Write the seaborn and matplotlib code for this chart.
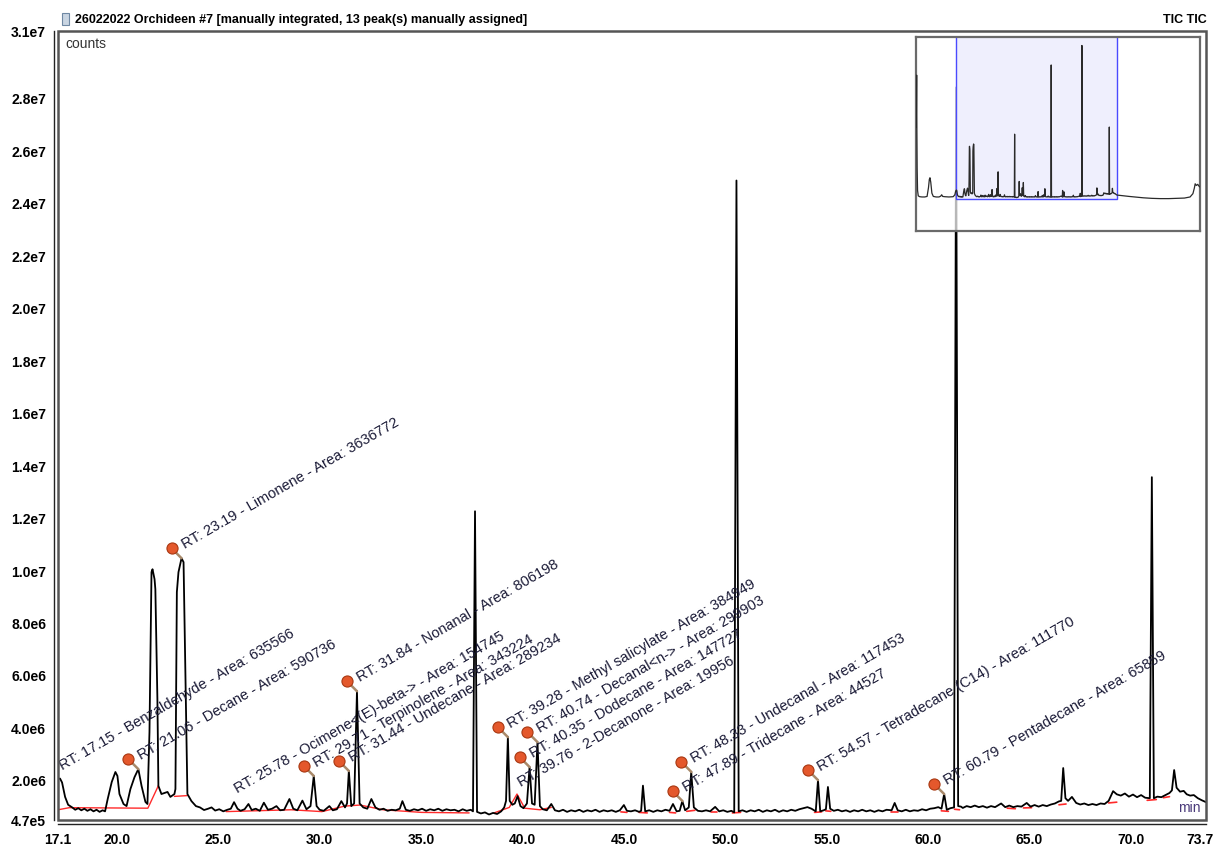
import numpy as np
import pandas as pd
import matplotlib
matplotlib.use("Agg")
import matplotlib.pyplot as plt
import matplotlib.transforms as mtransforms
from matplotlib.patches import Rectangle
import seaborn as sns

# ---------------- data ----------------
trace_time = [
    17.10, 17.20, 17.30, 17.45, 17.60, 17.80, 17.95, 18.10, 18.25, 18.40, 18.55, 18.70, 18.85, 19.00,
    19.15, 19.30, 19.42, 19.55, 19.75, 19.93, 20.03, 20.13, 20.33, 20.48, 20.67, 20.87, 21.06, 21.22,
    21.41, 21.51, 21.61, 21.71, 21.76, 21.86, 21.90, 22.00, 22.05, 22.20, 22.35, 22.50, 22.64, 22.84,
    22.89, 22.96, 23.04, 23.19, 23.29, 23.38, 23.48, 23.68, 23.90, 24.10, 24.30, 24.50, 24.67, 24.85,
    25.05, 25.25, 25.45, 25.62, 25.78, 25.95, 26.10, 26.30, 26.49, 26.65, 26.85, 27.05, 27.25, 27.45,
    27.65, 27.87, 28.05, 28.25, 28.51, 28.70, 28.90, 29.15, 29.35, 29.55, 29.71, 29.85, 30.00, 30.20,
    30.48, 30.65, 30.85, 31.07, 31.25, 31.35, 31.44, 31.56, 31.70, 31.84, 31.97, 32.15, 32.35, 32.55,
    32.75, 32.95, 33.15, 33.35, 33.55, 33.75, 33.95, 34.08, 34.25, 34.45, 34.65, 34.85, 35.05, 35.25,
    35.45, 35.65, 35.85, 36.05, 36.25, 36.45, 36.65, 36.85, 37.05, 37.25, 37.45, 37.56, 37.66, 37.76,
    37.95, 38.15, 38.35, 38.55, 38.75, 38.95, 39.10, 39.19, 39.28, 39.37, 39.50, 39.62, 39.76, 39.90,
    40.05, 40.22, 40.35, 40.47, 40.60, 40.74, 40.86, 41.00, 41.20, 41.42, 41.60, 41.80, 42.00, 42.20,
    42.40, 42.60, 42.80, 43.00, 43.20, 43.40, 43.60, 43.80, 44.00, 44.20, 44.40, 44.60, 44.80, 45.00,
    45.15, 45.35, 45.55, 45.75, 45.85, 45.94, 46.05, 46.25, 46.45, 46.65, 46.85, 47.05, 47.25, 47.42,
    47.60, 47.75, 47.88, 48.02, 48.20, 48.32, 48.45, 48.65, 48.85, 49.05, 49.25, 49.50, 49.70, 49.90,
    50.10, 50.30, 50.44, 50.55, 50.66, 50.85, 51.05, 51.25, 51.45, 51.65, 51.85, 52.05, 52.25, 52.45,
    52.65, 52.85, 53.05, 53.25, 53.45, 53.65, 53.85, 54.05, 54.25, 54.46, 54.57, 54.68, 54.85, 54.96,
    55.06, 55.17, 55.35, 55.55, 55.75, 55.95, 56.15, 56.35, 56.55, 56.75, 56.95, 57.15, 57.35, 57.55,
    57.75, 57.95, 58.20, 58.35, 58.50, 58.70, 58.90, 59.10, 59.30, 59.50, 59.70, 59.90, 60.10, 60.30,
    60.50, 60.66, 60.79, 60.92, 61.10, 61.28, 61.38, 61.48, 61.62, 61.71, 61.90, 62.10, 62.30, 62.50,
    62.70, 62.90, 63.10, 63.30, 63.60, 63.80, 64.00, 64.20, 64.40, 64.60, 64.86, 65.05, 65.25, 65.45,
    65.65, 65.85, 66.05, 66.25, 66.45, 66.56, 66.66, 66.77, 66.90, 67.09, 67.30, 67.50, 67.70, 67.90,
    68.10, 68.30, 68.50, 68.70, 68.90, 69.12, 69.30, 69.50, 69.70, 69.90, 70.10, 70.30, 70.50, 70.70,
    70.93, 71.03, 71.13, 71.30, 71.50, 71.70, 71.90, 72.02, 72.13, 72.25, 72.42, 72.60, 72.75, 72.92,
    73.10, 73.30, 73.50, 73.70,
]
trace_counts = [
    2.03e6, 2.05e6, 1.90e6, 1.35e6, 1.05e6, 0.95e6, 0.86e6, 0.92e6, 0.84e6, 0.90e6, 0.82e6, 0.88e6, 0.80e6, 0.86e6,
    0.78e6, 0.84e6, 0.80e6, 1.27e6, 1.92e6, 2.30e6, 2.15e6, 1.46e6, 1.08e6, 1.00e6, 1.65e6, 2.10e6, 2.41e6, 1.77e6,
    1.16e6, 1.08e6, 3.82e6, 9.92e6, 1.003e7, 9.65e6, 9.27e6, 5.10e6, 1.77e6, 1.46e6, 1.50e6, 1.54e6, 1.35e6, 1.46e6,
    1.65e6, 9.16e6, 9.92e6, 1.045e7, 1.03e7, 6.0e6, 1.46e6, 1.19e6, 1.00e6, 0.95e6, 0.85e6, 0.90e6, 0.95e6, 0.83e6,
    0.88e6, 0.80e6, 0.86e6, 0.90e6, 1.15e6, 0.90e6, 0.82e6, 0.88e6, 1.08e6, 0.85e6, 0.90e6, 0.82e6, 1.13e6, 0.86e6,
    0.90e6, 1.00e6, 0.84e6, 0.86e6, 1.27e6, 0.90e6, 0.84e6, 1.21e6, 0.88e6, 1.00e6, 2.15e6, 1.00e6, 0.86e6, 0.82e6,
    1.00e6, 0.84e6, 0.88e6, 1.19e6, 0.95e6, 1.10e6, 2.34e6, 1.00e6, 1.10e6, 5.38e6, 1.10e6, 0.95e6, 0.90e6, 1.27e6,
    0.95e6, 0.86e6, 0.90e6, 0.82e6, 0.86e6, 0.84e6, 0.90e6, 1.19e6, 0.86e6, 0.82e6, 0.88e6, 0.84e6, 0.90e6, 0.82e6,
    0.88e6, 0.84e6, 0.90e6, 0.82e6, 0.88e6, 0.84e6, 0.86e6, 0.80e6, 0.88e6, 0.82e6, 0.86e6, 0.80e6, 1.224e7, 0.78e6,
    0.72e6, 0.76e6, 0.68e6, 0.74e6, 0.70e6, 0.80e6, 0.95e6, 1.20e6, 3.63e6, 1.20e6, 1.05e6, 1.10e6, 1.38e6, 1.00e6,
    0.92e6, 1.10e6, 2.49e6, 1.10e6, 1.05e6, 3.44e6, 1.00e6, 0.88e6, 0.84e6, 1.08e6, 0.84e6, 0.80e6, 0.86e6, 0.78e6,
    0.84e6, 0.80e6, 0.86e6, 0.78e6, 0.84e6, 0.80e6, 0.86e6, 0.78e6, 0.84e6, 0.80e6, 0.84e6, 0.78e6, 0.84e6, 1.04e6,
    0.82e6, 0.80e6, 0.84e6, 0.78e6, 0.82e6, 1.78e6, 0.80e6, 0.84e6, 0.78e6, 0.84e6, 0.80e6, 0.86e6, 0.82e6, 1.08e6,
    0.80e6, 0.82e6, 1.19e6, 0.84e6, 0.95e6, 2.30e6, 0.95e6, 0.82e6, 0.80e6, 0.84e6, 0.80e6, 0.97e6, 0.80e6, 0.84e6,
    0.78e6, 0.82e6, 0.76e6, 2.485e7, 0.80e6, 0.84e6, 0.78e6, 0.84e6, 0.80e6, 0.86e6, 0.78e6, 0.84e6, 0.80e6, 0.86e6,
    0.78e6, 0.84e6, 0.80e6, 0.86e6, 0.82e6, 0.88e6, 0.92e6, 0.96e6, 0.90e6, 0.80e6, 1.99e6, 0.80e6, 0.84e6, 0.88e6,
    1.73e6, 0.90e6, 0.82e6, 0.86e6, 0.80e6, 0.84e6, 0.78e6, 0.84e6, 0.80e6, 0.86e6, 0.80e6, 0.84e6, 0.78e6, 0.84e6,
    0.80e6, 0.86e6, 0.84e6, 1.12e6, 0.84e6, 0.80e6, 0.86e6, 0.80e6, 0.84e6, 0.82e6, 0.88e6, 0.84e6, 0.90e6, 0.92e6,
    0.96e6, 0.90e6, 1.46e6, 0.86e6, 0.92e6, 0.95e6, 2.84e7, 1.00e6, 0.98e6, 0.93e6, 1.00e6, 0.96e6, 1.02e6, 0.96e6,
    1.00e6, 0.94e6, 1.00e6, 0.96e6, 1.10e6, 0.96e6, 1.02e6, 0.96e6, 1.00e6, 0.98e6, 1.12e6, 0.98e6, 1.04e6, 0.98e6,
    1.04e6, 1.00e6, 1.06e6, 1.10e6, 1.18e6, 1.20e6, 2.45e6, 1.30e6, 1.20e6, 1.35e6, 1.12e6, 1.06e6, 1.10e6, 1.04e6,
    1.08e6, 1.04e6, 1.10e6, 1.08e6, 1.20e6, 1.57e6, 1.45e6, 1.40e6, 1.48e6, 1.36e6, 1.44e6, 1.34e6, 1.42e6, 1.32e6,
    1.30e6, 1.354e7, 1.30e6, 1.36e6, 1.34e6, 1.42e6, 1.50e6, 1.60e6, 2.375e6, 1.70e6, 1.55e6, 1.58e6, 1.45e6, 1.40e6,
    1.42e6, 1.30e6, 1.22e6, 1.15e6,
]

# integration baselines (red)
base_a_time = [17.10, 17.66, 21.53, 22.05]
base_a_counts = [8.6e5, 9.4e5, 9.2e5, 1.78e6]
base_b_time = [22.84, 23.47]
base_b_counts = [1.37e6, 1.40e6]
base_c_time = [25.39, 28.60, 30.11, 31.24, 31.99, 33.13, 35.02, 37.37]
base_c_counts = [7.9e5, 8.6e5, 7.9e5, 1.00e6, 1.04e6, 8.6e5, 7.6e5, 7.4e5]
base_d_time = [38.60, 39.35, 39.73, 40.11, 40.86, 41.42]
base_d_counts = [7.4e5, 9.5e5, 1.46e6, 9.2e5, 8.6e5, 9.5e5]
base_e_start = [44.85, 45.75, 47.25, 48.10, 49.30, 50.35, 54.40, 54.95, 58.15, 60.65, 61.30, 63.90, 64.70, 66.45, 68.90, 70.80, 71.60]
base_e_end = [45.15, 46.15, 47.55, 48.50, 49.60, 50.75, 54.75, 55.20, 58.50, 61.00, 61.55, 64.30, 65.10, 66.80, 69.30, 71.25, 71.90]
base_e_start_counts = [7.8e5, 7.6e5, 7.6e5, 8.0e5, 7.6e5, 7.4e5, 7.6e5, 8.2e5, 7.8e5, 8.2e5, 8.8e5, 9.2e5, 9.3e5, 1.05e6, 1.12e6, 1.22e6, 1.32e6]
base_e_end_counts = [7.6e5, 7.4e5, 7.4e5, 8.4e5, 7.6e5, 7.6e5, 7.8e5, 8.0e5, 7.8e5, 8.0e5, 8.6e5, 9.0e5, 9.4e5, 1.08e6, 1.15e6, 1.25e6, 1.36e6]

# overview (inset) parts outside the zoomed range
ov_early_time = [2.90, 3.00, 3.08, 3.13, 3.20, 3.30, 3.45, 3.70, 4.20, 5.00, 6.00, 6.80, 7.30, 7.60, 7.83,
                 8.10, 8.50, 9.00, 10.00, 11.00, 11.60, 11.95, 12.30, 13.00, 14.50, 16.00, 16.60, 16.90]
ov_early_counts = [1.4e7, 1.35e7, 1.8e7, 2.3e7, 1.3e7, 6.0e6, 2.0e6, 1.0e6, 8.5e5, 8.0e5, 8.0e5, 9.0e5, 2.5e6, 4.0e6, 4.3e6,
                   3.5e6, 1.5e6, 9.0e5, 8.0e5, 8.0e5, 9.5e5, 1.2e6, 9.0e5, 8.5e5, 8.0e5, 8.5e5, 1.2e6, 1.9e6]
ov_late_time = [74.5, 76.0, 78.0, 80.0, 83.0, 86.0, 89.0, 92.0, 95.0, 97.5, 99.5, 100.5, 101.0, 101.3, 101.7, 102.2, 102.6, 103.0]
ov_late_counts = [1.1e6, 1.0e6, 0.9e6, 0.8e6, 0.65e6, 0.55e6, 0.5e6, 0.5e6, 0.55e6, 0.6e6, 0.8e6, 1.4e6, 2.4e6, 3.2e6, 2.9e6, 3.1e6, 2.8e6, 2.6e6]

# assigned peaks
peak_rt = [17.15, 21.06, 23.19, 25.78, 29.71, 31.44, 31.84, 39.28, 39.76, 40.35, 40.74, 47.89, 48.33, 54.57, 60.79]
peak_name = ["Benzaldehyde", "Decane", "Limonene", "Ocimene<(E)-beta->", "Terpinolene", "Undecane", "Nonanal",
             "Methyl salicylate", "2-Decanone", "Dodecane", "Decanal<n->", "Tridecane", "Undecanal",
             "Tetradecane (C14)", "Pentadecane"]
peak_area = [635566, 590736, 3636772, 154745, 343224, 289234, 806198, 384949, 19956, 147727, 299903, 44527,
             117453, 111770, 65859]
peak_apex = [2.03e6, 2.41e6, 1.045e7, 1.15e6, 2.15e6, 2.34e6, 5.38e6, 3.63e6, 1.38e6, 2.49e6, 3.44e6, 1.19e6,
             2.30e6, 1.99e6, 1.46e6]
peak_pinned = [False, True, True, False, True, True, True, True, False, True, True, True, True, True, True]

x_range = [17.1, 73.7]
y_range = [4.7e5, 3.055e7]
x_major = [20, 25, 30, 35, 40, 45, 50, 55, 60, 65, 70]
y_major = [2e6, 4e6, 6e6, 8e6, 1e7, 1.2e7, 1.4e7, 1.6e7, 1.8e7, 2.0e7, 2.2e7, 2.4e7, 2.6e7, 2.8e7]
ov_x_range = [2.9, 103.0]
ov_y_range = [-5.4e6, 3.0e7]

title_text = "26022022 Orchideen #7 [manually integrated, 13 peak(s) manually assigned]"
trace_name = "TIC TIC"

# ---------------- drawing ----------------
sns.set_style("white")
plt.rcParams["font.family"] = ["Liberation Sans", "DejaVu Sans"]
plt.rcParams["text.color"] = "black"
plt.rcParams["xtick.color"] = "black"
plt.rcParams["ytick.color"] = "black"
BOLD = ["Liberation Sans Narrow", "Liberation Sans", "DejaVu Sans"]

W, H = 1216, 845
fig = plt.figure(figsize=(W / 100, H / 100), dpi=100)
fig.patch.set_facecolor("white")


def fx(px):
    return px / W


def fy(py):
    return 1 - py / H


ax = fig.add_axes([fx(58), fy(821), (1206 - 58) / W, (821 - 32) / H])
ax.set_facecolor("white")

df = pd.DataFrame({"time": trace_time, "counts": trace_counts})

# red integration baselines
for bt, bc in [(base_a_time, base_a_counts), (base_b_time, base_b_counts),
               (base_c_time, base_c_counts), (base_d_time, base_d_counts)]:
    ax.plot(bt, bc, color="#ff2a2a", lw=1.0, zorder=2)
for t0, t1, c0, c1 in zip(base_e_start, base_e_end, base_e_start_counts, base_e_end_counts):
    ax.plot([t0, t1], [c0, c1], color="#ff2a2a", lw=1.2, zorder=2)

sns.lineplot(data=df, x="time", y="counts", ax=ax, color="black", linewidth=1.3,
             estimator=None, sort=False, zorder=3)

ax.set_xlim(*x_range)
ax.set_ylim(*y_range)
ax.set_xlabel("")
ax.set_ylabel("")


def sci(v):
    e = int(np.floor(np.log10(v)))
    m = v / 10 ** e
    if round(m, 1) >= 10:
        m /= 10
        e += 1
    return f"{m:.1f}e{e}"


xt = [x_range[0]] + x_major + [x_range[1]]
ax.set_xticks(xt)
ax.set_xticklabels([f"{v:.1f}" for v in xt])
yt = [y_range[0]] + y_major + [y_range[1]]
ax.set_yticks(yt)
ax.set_yticklabels([sci(v) for v in yt])
ax.set_xticks(np.arange(18, 74, 1.0), minor=True)
ax.set_yticks(np.arange(5e5, 3.05e7, 5e5), minor=True)

for s in ["top", "right"]:
    ax.spines[s].set_visible(False)
for s in ["left", "bottom"]:
    ax.spines[s].set_position(("outward", 3))
    ax.spines[s].set_color("#222222")
    ax.spines[s].set_linewidth(1.0)
ax.tick_params(axis="both", which="major", direction="out", length=4, width=1.0, color="#222222", pad=1.5)
ax.tick_params(axis="both", which="minor", direction="out", length=2.5, width=1.0, color="#222222")
ax.add_patch(Rectangle((0, 0), 1, 1, transform=ax.transAxes, fill=False, ec="#555555", lw=1.8,
                       zorder=10, clip_on=False))

# peak labels and pins
head_tf = mtransforms.offset_copy(ax.transData, fig=fig, x=-10, y=10, units="dots")
for rt, name, area, apex, pinned in zip(peak_rt, peak_name, peak_area, peak_apex, peak_pinned):
    label = f"RT: {rt:.2f} - {name} - Area: {area}"
    ax.annotate(label, xy=(rt, apex), xytext=(3, 10), textcoords="offset pixels",
                rotation=30, rotation_mode="anchor", ha="left", va="baseline",
                fontsize=10.5, color="#1a1a36", zorder=6, family=["Liberation Sans", "DejaVu Sans"])
    if pinned:
        ax.annotate("", xy=(rt, apex), xytext=(-9, 9), textcoords="offset pixels",
                    arrowprops=dict(arrowstyle="-", color="#a8896a", lw=1.8, shrinkA=0, shrinkB=0),
                    zorder=6)
        ax.plot([rt], [apex], marker="o", ms=8, mfc="#e4582c", mec="#a83812", mew=0.8,
                transform=head_tf, zorder=7, clip_on=False)

# texts
fig.text(fx(65), fy(44), "counts", fontsize=10, color="#333333", va="center", ha="left")
fig.text(fx(1189), fy(808), "min", fontsize=10, color="#4a3a7a", va="center", ha="center")
fig.text(fx(75), fy(20), title_text, fontsize=9, fontweight="bold", family=BOLD, va="center", ha="left")
fig.text(fx(1207), fy(20), trace_name, fontsize=9, fontweight="bold", family=BOLD, va="center", ha="right")
fig.add_artist(Rectangle((fx(62), fy(26)), 7 / W, 12 / H, transform=fig.transFigure,
                         fc="#c9d5e2", ec="#6f88a3", lw=0.8))

# overview inset
axin = fig.add_axes([fx(916), fy(232), 284 / W, (232 - 37.7) / H], zorder=20)
axin.patch.set_facecolor("white")
axin.patch.set_alpha(0.72)
axin.add_patch(Rectangle((x_range[0], y_range[0]), x_range[1] - x_range[0], y_range[1] - y_range[0],
                         fc="#efeffd", ec="#4a4aff", lw=1.0, zorder=1))
ov_df = pd.DataFrame({"time": ov_early_time + trace_time + ov_late_time,
                      "counts": ov_early_counts + trace_counts + ov_late_counts})
sns.lineplot(data=ov_df, x="time", y="counts", ax=axin, color="#2a2a2a", linewidth=0.9,
             estimator=None, sort=False, zorder=3)
axin.set_xlim(*ov_x_range)
axin.set_ylim(*ov_y_range)
axin.set_xticks([])
axin.set_yticks([])
axin.set_xlabel("")
axin.set_ylabel("")
for s in axin.spines.values():
    s.set_visible(True)
    s.set_color("#6a6a6a")
    s.set_linewidth(1.6)

# bold tick labels (set after ticks are materialised)
fig.canvas.draw()
for lab in ax.get_xticklabels() + ax.get_yticklabels():
    lab.set_fontweight("bold")
    lab.set_family(BOLD)
    lab.set_fontsize(10)
    lab.set_color("black")
last = ax.get_xticklabels()[-1]
last.set_horizontalalignment("right")
last.set_transform(last.get_transform() + mtransforms.ScaledTranslation(8 / 100, 0, fig.dpi_scale_trans))

fig.savefig("out.png", dpi=100, facecolor="white")
